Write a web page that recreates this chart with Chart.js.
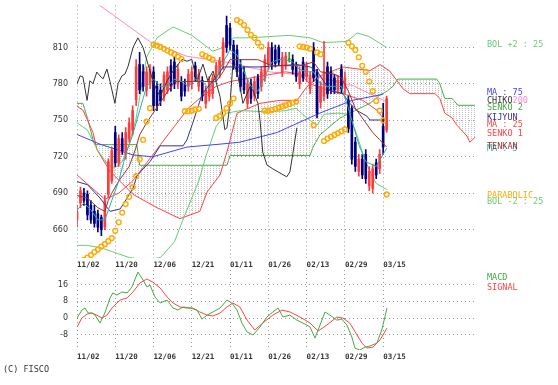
<!DOCTYPE html>
<html>
<head>
<meta charset="utf-8">
<script src="https://cdn.jsdelivr.net/npm/chart.js@4.4.0/dist/chart.umd.min.js"></script>
<style>
  body { margin: 0; background: #fff; width: 558px; height: 385px; position: relative; overflow: hidden; }
  canvas { position: absolute; left: 0; }
  #main { top: 0; }
  #macd { top: 268px; }
  .lbl { position: absolute; left: 487px; font-family: "DejaVu Sans Mono", monospace; font-size: 8.5px; line-height: 9px; white-space: nowrap; }
</style>
</head>
<body>
<canvas id="main" width="558" height="272" style="width:558px;height:272px"></canvas>
<canvas id="macd" width="558" height="95" style="width:558px;height:95px"></canvas>

<div class="lbl" style="top:40px;color:#66cc77">BOL +2 : 25</div>
<div class="lbl" style="top:88px;color:#4444ff">MA : 75</div>
<div class="lbl" style="top:96px;color:#333">CHIKO<span style="color:#ff88c8">200</span></div>
<div class="lbl" style="top:103px;color:#44aa44">SENKO 2</div>
<div class="lbl" style="top:113px;color:#333399">KIJYUN</div>
<div class="lbl" style="top:120px;color:#ff4444">MA : 25</div>
<div class="lbl" style="top:129px;color:#ff4444">SENKO 1</div>
<div class="lbl" style="top:144px;color:#33aaaa">MA : 5</div>
<div class="lbl" style="top:142px;color:#993333">TENKAN</div>
<div class="lbl" style="top:191px;color:#ffaa00">PARABOLIC</div>
<div class="lbl" style="top:197px;color:#66cc77">BOL -2 : 25</div>
<div class="lbl" style="top:273px;color:#44aa44">MACD</div>
<div class="lbl" style="top:283px;color:#ff4444">SIGNAL</div>
<div class="lbl" style="top:365px;left:3px;color:#333">(C) FISCO</div>

<script>
// 日付ラベル (11営業日ごと)
const dateLabels = ['11/02', '11/20', '12/06', '12/21', '01/11', '01/26', '02/13', '02/29', '03/15'];
const tickPos = [0, 11, 22, 33, 44, 55, 66, 77, 88];
const priceTicks = [660, 690, 720, 750, 780, 810];
const macdTicks = [-8, 0, 8, 16];

// ローソク足
const open = [668,682,690,689,680,675,673,670,662,689, 700,740,715,735,722,735,742,767,796,790,
  775,780,790,778,775,770,775,795,798,780, 782,780,778,780,795,778,783,764,770,772,
  785,788,796,828,826,812,808,796,790,764, 780,770,785,778,785,796,810,808,810,790,
  795,800,800,795,780,798,786,776,810,790, 765,770,794,790,785,775,792,776,767,760,
  732,708,718,722,696,694,715,710,745,742];
const high = [680,695,694,692,684,680,676,672,688,718, 728,745,738,740,744,752,762,800,806,796,
  794,796,794,782,780,790,794,800,802,796, 786,784,792,794,798,792,786,778,786,788,
  798,802,818,836,830,816,812,800,794,784, 784,786,788,794,804,814,814,812,812,806,
  806,806,804,798,794,802,798,790,814,792, 782,815,798,794,788,787,796,790,770,762,
  736,722,722,726,712,714,718,726,764,770];
const low = [662,678,680,668,665,662,658,655,660,686, 698,712,712,722,718,732,738,762,772,774,
  770,776,758,758,762,766,772,774,776,776, 766,770,774,776,782,774,766,760,766,768,
  782,785,792,806,808,792,786,774,772,760, 764,766,768,774,782,792,792,794,795,786,
  792,798,788,782,776,782,782,772,782,752, 760,766,768,772,772,772,772,772,740,714,
  708,704,702,698,692,690,702,706,722,740];
const close = [675,692,684,672,668,665,662,660,684,716, 725,715,735,725,740,748,758,794,775,778,
  790,792,762,762,766,787,790,778,780,792, 770,774,788,790,786,788,770,775,782,785,
  795,799,814,810,812,795,790,778,775,780, 768,782,772,790,800,810,796,797,798,802,
  803,800,792,786,790,785,795,786,785,756, 778,790,772,775,775,783,776,785,743,718,
  712,718,705,702,708,710,705,722,728,768];

// 移動平均 [位置, 値]
const ma5 = [[0,676],[2,682],[4,676],[6,668],[8,668],[10,684],[12,700],[14,722],[16,738],[18,758],[20,778],
  [22,784],[24,778],[26,778],[28,784],[30,782],[32,778],[34,784],[36,782],[38,776],[40,784],[42,798],
  [44,808],[46,804],[48,790],[50,778],[52,774],[54,786],[56,798],[58,800],[60,800],[62,798],[64,792],
  [66,790],[68,790],[70,780],[72,778],[74,778],[76,778],[78,760],[79,750],[81,730],[83,716],[86,712],[88,722],[89,727]];
const ma25 = [[0,705],[4,695],[8,685],[12,690],[16,700],[20,715],[24,730],[28,745],[32,760],[36,770],
  [40,778],[44,782],[48,784],[52,786],[56,788],[60,790],[64,788],[67,780],[72.7,774.5],[76.4,772],
  [82.2,766.4],[86.2,758.4],[89,748]];
const ma75 = [[0,738.4],[6.6,730.4],[16.1,721.5],[21.8,720],[31.6,728],[41.1,730.4],[46.8,732],
  [57.5,740],[69.8,756],[79.3,766.6],[87.9,771.4]];
const ma200 = [[0,857],[6.6,844.6],[21,814.8],[31.6,802.8],[43.1,797.9],[55.5,789.9],[67.8,786.7],
  [79.3,778.6],[88.5,766]];

// ボリンジャーバンド
const bolUp = [[0,748],[3,742],[6,725],[9,713],[11,711],[13,716],[15,730],[17,752],[19,785],[20,802],
  [23,818],[27.6,827],[33,820],[39,807],[42,810],[45,818],[50,818],[55,819],[61,820],[67,818],
  [70.7,814],[77.6,815],[80.5,822],[84,819],[89,810]];
const bolDn = [[0,647],[3,647],[7,645],[11,641],[15,637],[20,635],[24,637],[28,650],[31,672],[35,700],
  [37,720],[40,745],[43,756],[47,758],[55,757],[60,758],[63,760],[66,752],[69,746],[71,755],[75,756],
  [78,755],[80,742],[82,724],[84,709],[86,698],[89,693]];

// 一目均衡表
const tenkan = [[0,688],[3,686],[6,678],[8,675],[9,684],[10,690],[12,700],[15,712],[17,728],[18,738],
  [20,748],[24,765],[28,782],[36,782],[40,782],[42,790],[44,800],[47,800],[52,800],[56,795],[60,795],
  [64,795],[68,798],[70,790],[74,788],[76,785],[78,774],[80,760],[83,748],[85,740],[87,734],[89,728]];
const kijun = [[0,699.5],[3,697],[6.6,686],[9.5,675],[12.4,677],[14.4,686],[16.1,694],[17.2,704],[19,710],
  [21,716],[23.9,729],[30.5,729],[31.6,734],[33.3,748],[36,772],[40.2,786],[42,794],[44,794],[52.6,794],
  [63.2,796],[67,794],[69,790.6],[72.7,774.5],[76.4,772],[78.4,764],[80.5,758],[83.3,753.5],[84.2,750.3],[89,750.3]];
const senko1 = [[0,761.6],[1.7,758.4],[4.6,740],[5.7,726],[9.5,708],[16.1,689],[23,678],[29.6,669],
  [35.3,675],[37.4,691],[41.1,705],[43.1,724],[46,756],[52.6,764],[58.3,766.5],[63.2,766.4],[66.1,777.7],
  [69.8,786.6],[76.4,794],[84.2,791],[87.1,796],[89.9,790.6],[92,782.6],[93.7,776],[95.7,772],[102.9,772],
  [104.3,768],[105.7,756],[107.8,752],[109.2,746],[112.1,737],[112.9,732],[114.4,736]];
const senko2 = [[0,764],[1.7,764],[3.2,750],[4.6,734],[5.2,730],[17.2,730],[18,713],[43.1,713],[44,721],
  [67,721],[67.8,727.7],[69.8,738],[75.6,752],[84.2,764],[87.1,771],[89.1,774],[90.8,778],[92.2,784],
  [103.4,784],[104.3,780],[105.7,768],[107.8,768],[109.5,762.4],[114.4,762.4]];
const chiko = [[0,780.2],[0.9,786.6],[1.7,785.8],[2.9,766.4],[3.7,782.6],[4.6,780.2],[5.7,789.8],[6.6,786.6],
  [7.5,784.2],[8.6,792.3],[9.5,781.8],[10.9,764],[11.8,780.2],[12.9,786.6],[13.8,788.2],[14.7,794.7],
  [16.1,810],[17.5,818],[19,810],[20.4,796.3],[21.8,782.6],[23,774.5],[23.9,769.7],[25.9,782.6],
  [27.6,790.6],[30.2,800.3],[31.6,798.7],[33,800.3],[34.5,782.6],[36.2,796.3],[37.6,782.6],[39.1,790.6],
  [41.1,769.7],[42.5,742.3],[43.1,743.9],[44,764],[44.8,796.3],[46,790.6],[47.7,764],[49.7,777.7],
  [50.6,774.5],[52,764],[52.6,750.3],[53.4,723.7],[54.6,713.2],[56.3,710],[59.2,705.2],[60.3,703.5],
  [61.2,707.6],[62.1,723.7],[63.2,743.9]];

// パラボリック
const sar = [[2,635],[3,637],[4,639],[5,641.5],[6,643.5],[7,646],[8,648],[9,650.5],[10,653],[11,659],
  [12,666],[13,674],[14,681],[15,687],[16,695],[17,704],[18,718],[19,734],[20,749],[21,760],
  [22,812.4],[23,811.5],[24,810.5],[25,809],[26,807.5],[27,806],[28,804.5],[29,802.5],[30,800.5],
  [31,757.6],[32,757.6],[33,758],[34,759],[35,759.5],[36,804.4],[37,803],[38,801.5],[39,800],
  [40,752],[41,753.5],[42,756],[43,760],[44,764],[45,768],
  [46,832.6],[47,831],[48,828.5],[49,824.5],[50,820.5],[51,818],[52,814],[53,810.8],
  [54,758],[55,758],[56,758.5],[57,759.5],[58,760.5],[59,761.5],[60,762.5],[61,763.5],[62,764.5],[63,765.5],
  [64,811],[65,810.5],[66,810],[67,809],[68,746],[69,806],[70,804.5],
  [71,733],[72,735],[73,736.5],[74,738],[75,739.5],[76,741],[77,742.5],
  [78,814],[79,811],[80,808],[81,802],[82,795],[83,790],[84,782],[85,774],[86,766],[87,758],[88,750],[89,689]];

// MACD
const macd = [[0,0],[1.4,3.8],[2.3,4.8],[3.2,2.4],[4.3,2.4],[5.2,1.4],[6.6,-2.4],[8,2.4],[9.5,9.6],[10.3,12],
  [11.5,11],[12.9,12.5],[14.4,12],[15.8,14.9],[17.5,22],[19,18.2],[20.1,14.9],[21,15.8],[22.4,10.1],
  [23.9,7.2],[25.9,8.6],[27.6,4.8],[29,3.8],[30.5,5.3],[32.5,4.8],[34.5,3.8],[35.9,-0.5],[37.4,1.4],
  [39.1,2.9],[41.1,4.8],[43.1,8.6],[44.5,7.2],[46,3.8],[47.4,-2.4],[48.9,-6.7],[50.6,-8.1],[52.6,-4.3],
  [54.6,0.5],[56.3,2.9],[57.8,4.8],[59.2,0.5],[61.2,1.4],[63.2,-1],[66.1,-3.4],[67,-4.3],[68.4,-9.6],
  [71.3,2.9],[72.7,1.4],[74.7,-1],[76.1,-0.5],[77.6,-3.4],[79,-9.1],[79.9,-14.4],[81.3,-15.3],
  [82.8,-13.9],[84.2,-13.4],[86.2,-12],[87.6,-5.7],[88.5,0.5],[89.1,4.8]];
const signal = [[0,-4.3],[1.4,0],[2.9,1.9],[4.3,2.4],[5.7,1.4],[7.2,0],[8.6,1.4],[10.3,5.3],[12.4,8.6],
  [14.4,9.6],[16.1,12.5],[18.1,16.8],[20.1,18.7],[21.8,17.2],[23.9,14.4],[25.9,10.1],[27.6,7.2],
  [29.6,5.3],[31.6,4.8],[33.3,4.8],[35.3,2.9],[37.4,1.4],[39.1,1],[41.1,2.4],[43.1,5.3],[44.8,7.2],
  [46.8,5.3],[48.9,-1],[51.1,-5.7],[53.4,-2.4],[56.3,1.4],[58.9,3.8],[61.2,2.9],[64.1,0.5],[67,-2.4],
  [69.3,-6.2],[71.8,-3.4],[74.7,0.5],[76.4,0],[78.4,-2.4],[80.5,-8.1],[81.9,-12],[83.3,-14.4],
  [85.1,-13.9],[87.1,-10.5],[89.1,-4.8]];

Chart.defaults.animation = false;

const pts = (arr) => arr.map(p => ({ x: p[0], y: p[1] }));
const line = (arr, color, extra) => Object.assign({
  type: 'line', data: pts(arr), borderColor: color, borderWidth: 1,
  pointRadius: 0, tension: 0, fill: false
}, extra || {});

const candleColor = open.map((o, i) => close[i] > o ? '#ff3b3b' : (close[i] < o ? '#000080' : '#2a9d2a'));

const xAxis = (h) => ({
  type: 'linear', min: 0, max: 114.4, offset: false,
  afterBuildTicks: s => { s.ticks = tickPos.map(v => ({ value: v })); },
  afterFit: s => { s.height = h; s.paddingLeft = 0; s.paddingRight = 0; },
  ticks: {
    callback: (v, i) => dateLabels[i], align: 'start', padding: 3, maxRotation: 0, autoSkip: false,
    color: '#333', font: { family: 'DejaVu Sans Mono', size: 7.5, weight: 'bold' }
  },
  grid: { color: '#999', lineWidth: 1, drawTicks: false, offset: false },
  border: { display: false, dash: [1, 3] }
});
const yAxis = (min, max, ticksArr) => ({
  min: min, max: max,
  afterBuildTicks: s => { s.ticks = ticksArr.map(v => ({ value: v })); },
  afterFit: s => { s.width = 77; s.paddingTop = 0; s.paddingBottom = 0; },
  ticks: { padding: 9, color: '#333', font: { family: 'DejaVu Sans', size: 8 } },
  grid: { color: '#999', lineWidth: 1, drawTicks: false },
  border: { display: false, dash: [1, 3] }
});

// 雲のハッチング
const mainCtx = document.getElementById('main').getContext('2d');
const pc = document.createElement('canvas');
pc.width = 3; pc.height = 2;
const pctx = pc.getContext('2d');
pctx.fillStyle = '#c4c4c4';
pctx.fillRect(0, 0, 1, 1);
const hatch = mainCtx.createPattern(pc, 'repeat');

const idx = open.map((o, i) => i);

new Chart(mainCtx, {
  data: {
    datasets: [
      { type: 'line', data: pts(sar), showLine: false, pointRadius: 2.4, pointBorderWidth: 1.4,
        pointBorderColor: '#ffaa00', pointBackgroundColor: 'rgba(0,0,0,0)' },
      line(ma5, '#33aaaa'),
      line(tenkan, '#993333'),
      line(kijun, '#333399'),
      line(chiko, '#333333'),
      { type: 'bar', data: idx.map(i => ({ x: i, y: [open[i], close[i]] })), backgroundColor: candleColor,
        barThickness: 2, minBarLength: 1, grouped: false },
      { type: 'bar', data: idx.map(i => ({ x: i, y: [low[i], high[i]] })), backgroundColor: candleColor,
        barThickness: 1, grouped: false },
      line(ma25, '#ff4444'),
      line(ma75, '#4444ff'),
      line(ma200, '#ff88c8'),
      line(bolUp, '#66cc77'),
      line(bolDn, '#66cc77'),
      line(senko1, '#ff4444', { fill: { target: 13, above: hatch, below: hatch } }),
      line(senko2, '#44aa44')
    ]
  },
  options: {
    responsive: false,
    layout: { padding: { left: 0, right: 83, top: 0, bottom: 0 } },
    plugins: { legend: { display: false }, tooltip: { enabled: false } },
    scales: {
      x: xAxis(14),
      y: yAxis(636.6, 844.7, priceTicks)
    }
  }
});

new Chart(document.getElementById('macd'), {
  data: {
    datasets: [
      line(macd, '#44aa44'),
      line(signal, '#ff4444')
    ]
  },
  options: {
    responsive: false,
    layout: { padding: { left: 0, right: 83, top: 2, bottom: 0 } },
    plugins: { legend: { display: false }, tooltip: { enabled: false } },
    scales: {
      x: xAxis(13),
      y: yAxis(-15.3, 23, macdTicks)
    }
  }
});
</script>
</body>
</html>
